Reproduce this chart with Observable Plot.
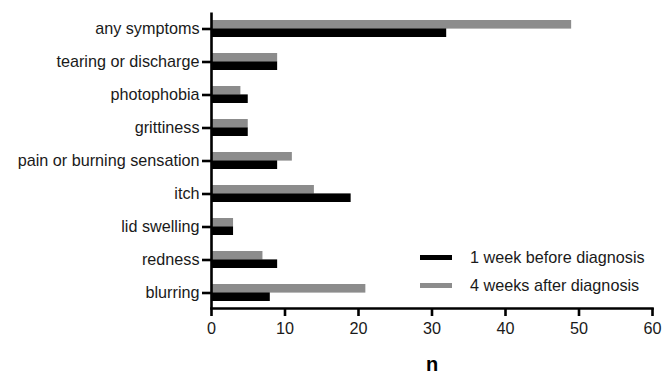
<!DOCTYPE html>
<html>
<head>
<meta charset="utf-8">
<script src="https://cdn.jsdelivr.net/npm/d3@7"></script>
<script src="https://cdn.jsdelivr.net/npm/@observablehq/plot@0.6"></script>
<style>
  html, body { margin: 0; padding: 0; background: #fff; }
  #wrap { position: relative; width: 672px; height: 373px; font-family: "Liberation Sans", Arial, sans-serif; }
  .leg { position: absolute; left: 420px; font-size: 16.2px; color: #1a1a1a; }
  .leg .sw { position: absolute; left: 0; width: 32px; height: 5px; }
  .leg .lbl { position: absolute; left: 50px; white-space: nowrap; line-height: 18px; }
</style>
</head>
<body>
<div id="wrap"></div>
<script>
const categories = ["any symptoms", "tearing or discharge", "photophobia", "grittiness",
  "pain or burning sensation", "itch", "lid swelling", "redness", "blurring"];
const before = [32, 9, 5, 5, 9, 19, 3, 9, 8];   // 1 week before diagnosis
const after  = [49, 9, 4, 5, 11, 14, 3, 7, 21]; // 4 weeks after diagnosis
const seriesNames = ["1 week before diagnosis", "4 weeks after diagnosis"];
const xTicks = [0, 10, 20, 30, 40, 50, 60];

const beforeData = categories.map((c, i) => ({category: c, n: before[i]}));
const afterData = categories.map((c, i) => ({category: c, n: after[i]}));

const chart = Plot.plot({
  width: 672,
  height: 373,
  marginLeft: 211,
  marginRight: 20,
  marginTop: 12.5,
  marginBottom: 65,
  style: {fontFamily: "'Liberation Sans', Arial, sans-serif", fontSize: "16px", color: "#1a1a1a", background: "#fff"},
  x: {domain: [0, 60], ticks: xTicks},
  y: {domain: categories, paddingInner: 0.5, paddingOuter: 0.14},
  marks: [
    Plot.barX(afterData, {y: "category", x: "n", fill: "#8c8c8c", insetBottom: 8.4, insetTop: 0}),
    Plot.barX(beforeData, {y: "category", x: "n", fill: "#000", insetTop: 8.4, insetBottom: 0}),
    Plot.axisX({ticks: xTicks, tickSize: 8, strokeWidth: 2.6, stroke: "#000", tickPadding: 6, fontSize: 16.2, label: null}),
    Plot.axisY({tickSize: 9, strokeWidth: 2.6, stroke: "#000", tickPadding: 3, fontSize: 16.2, label: null}),
    Plot.ruleX([0], {stroke: "#000", strokeWidth: 2.6}),
    Plot.frame({anchor: "bottom", stroke: "#000", strokeWidth: 2.6}),
    Plot.text(["n"], {frameAnchor: "bottom", dy: 62, text: d => d, fontWeight: "bold", fontSize: 20, fill: "#000"})
  ]
});

const wrap = document.getElementById("wrap");
wrap.appendChild(chart);

const legendColors = ["#000", "#8c8c8c"];
const legendY = [257, 285];
seriesNames.forEach((name, i) => {
  const d = document.createElement("div");
  d.className = "leg";
  d.style.top = (legendY[i] - 9) + "px";
  d.innerHTML = `<span class="sw" style="top:6.5px;background:${legendColors[i]}"></span><span class="lbl">${name}</span>`;
  wrap.appendChild(d);
});
</script>
</body>
</html>
